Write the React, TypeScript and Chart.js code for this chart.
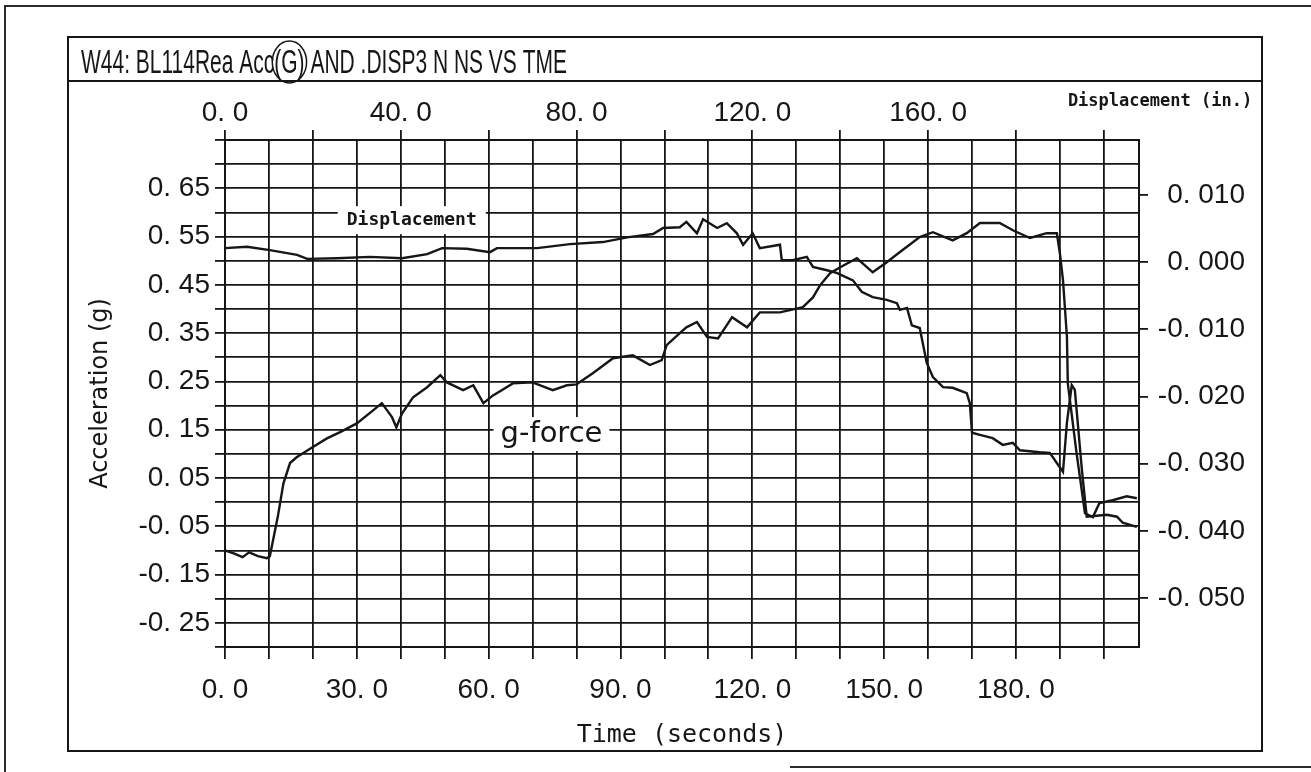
import React, { useEffect, useRef } from 'react';
import { Chart, registerables } from 'chart.js';
Chart.register(...registerables);

// ---- data ----
const gTime = [0, 2, 4, 5.5, 7.5, 9.5, 10.2, 12, 13.3, 14.8, 16.3, 20, 23.2, 26.2, 30, 33.7, 35.7, 38, 39, 40.3, 42.8, 46, 49, 50.5, 54.2, 56.5, 58.8, 61, 65.5, 70, 74.6, 77.8, 80, 83.7, 88.3, 92.8, 96.7, 99.4, 100.5, 103.5, 105, 107.4, 109.7, 112.2, 115.4, 118.8, 121.7, 126.3, 131.5, 133.8, 135.4, 137.7, 139.9, 143.8, 147.4, 150.6, 153.6, 158.1, 161.1, 165.6, 168.8, 171.8, 176.3, 179.3, 183.2, 187, 189.3, 190, 190.7, 191.6, 191.8, 193.8, 195.7, 197.5, 199, 202, 205.2, 207.5];
const gValue = [-0.100, -0.106, -0.114, -0.104, -0.112, -0.116, -0.112, -0.031, 0.039, 0.081, 0.093, 0.114, 0.132, 0.145, 0.163, 0.190, 0.205, 0.176, 0.155, 0.184, 0.217, 0.238, 0.263, 0.248, 0.232, 0.242, 0.205, 0.221, 0.246, 0.248, 0.232, 0.242, 0.244, 0.267, 0.298, 0.304, 0.284, 0.294, 0.325, 0.350, 0.362, 0.373, 0.342, 0.339, 0.383, 0.362, 0.393, 0.393, 0.404, 0.424, 0.449, 0.474, 0.486, 0.505, 0.476, 0.497, 0.518, 0.549, 0.559, 0.542, 0.557, 0.578, 0.578, 0.563, 0.547, 0.557, 0.557, 0.515, 0.460, 0.342, 0.246, 0.101, -0.023, -0.031, -0.002, 0.004, 0.012, 0.008];

const dTime = [0, 5, 10.2, 16.4, 18.7, 25.5, 33, 40.3, 46, 49.4, 55, 60.3, 61.9, 71, 78.5, 86, 91.5, 97.4, 99.7, 103.5, 105, 107.4, 108.8, 112, 114.2, 116.5, 117.9, 120.1, 121.7, 126.3, 126.7, 129.2, 132.4, 133.8, 137, 139.2, 142.9, 144.9, 147.4, 150.6, 152.9, 153.6, 155.2, 156.3, 158.1, 159.7, 161.1, 163.4, 165.6, 168.8, 169.5, 170, 171.8, 174.7, 177, 179.3, 180.9, 185.4, 187.7, 189.3, 190.7, 191.6, 192.7, 193.4, 195, 196.1, 200.7, 203, 204.3, 207.5];
const dValue = [0.0021, 0.0023, 0.0018, 0.0011, 0.0005, 0.0006, 0.0008, 0.0006, 0.0012, 0.0021, 0.0020, 0.0015, 0.0021, 0.0021, 0.0027, 0.0030, 0.0037, 0.0042, 0.0051, 0.0052, 0.0060, 0.0043, 0.0064, 0.0051, 0.0058, 0.0043, 0.0026, 0.0043, 0.0021, 0.0026, 0.0003, 0.0003, 0.0008, -0.0007, -0.0012, -0.0016, -0.0027, -0.0044, -0.0052, -0.0056, -0.0061, -0.0071, -0.0068, -0.0094, -0.0098, -0.0150, -0.0171, -0.0186, -0.0187, -0.0195, -0.0210, -0.0254, -0.0257, -0.0262, -0.0272, -0.0269, -0.0280, -0.0283, -0.0284, -0.0299, -0.0312, -0.0239, -0.0183, -0.0190, -0.0309, -0.0379, -0.0376, -0.0379, -0.0388, -0.0394];

// tick labels
const bottomLabelValues = [0, 30, 60, 90, 120, 150, 180];
const topLabelValues = [0, 40, 80, 120, 160];
const leftLabelValues = [0.65, 0.55, 0.45, 0.35, 0.25, 0.15, 0.05, -0.05, -0.15, -0.25];
const rightLabelValues = [0.01, 0, -0.01, -0.02, -0.03, -0.04, -0.05];

const titleText = 'W44: BL114Rea Acc(G) AND .DISP3 N NS VS TME';
const leftTitle = 'Acceleration (g)';
const bottomTitle = 'Time (seconds)';
const rightTitle = 'Displacement (in.)';
const gLabel = 'g-force';
const dLabel = 'Displacement';

const INK = '#161616';

function fmt(v: number, dec: number) {
  const r = Math.abs(v) < 1e-9 ? 0 : v;
  return r.toFixed(dec).replace('.', '. ');
}
function near(arr: number[], v: number, eps: number) {
  return arr.some((a) => Math.abs(a - v) < eps);
}

const decor = {
  id: 'decor',
  beforeDraw(chart: any) {
    const ctx = chart.ctx as CanvasRenderingContext2D;
    const W = chart.width;
    const H = chart.height;
    ctx.save();
    ctx.fillStyle = '#fff';
    ctx.fillRect(0, 0, W, H);
    ctx.strokeStyle = '#2a2a2a';
    ctx.lineWidth = 2;
    // outer page frame
    ctx.beginPath();
    ctx.moveTo(5, H);
    ctx.lineTo(5, 6);
    ctx.lineTo(W, 6);
    ctx.moveTo(790, 767);
    ctx.lineTo(W, 767);
    ctx.stroke();
    // inner frame
    ctx.strokeStyle = INK;
    ctx.strokeRect(68, 37, 1194, 714);
    // title underline
    ctx.beginPath();
    ctx.moveTo(68, 81);
    ctx.lineTo(1262, 81);
    ctx.stroke();
    // title
    ctx.font = '33px "Liberation Sans", Arial, sans-serif';
    ctx.fillStyle = INK;
    ctx.textBaseline = 'alphabetic';
    ctx.textAlign = 'left';
    const tw = ctx.measureText(titleText).width;
    const sx = 486 / tw;
    ctx.save();
    ctx.translate(81, 73);
    ctx.scale(sx, 1);
    ctx.fillText(titleText, 0, 0);
    // hand drawn circle around (G)
    const pre = ctx.measureText('W44: BL114Rea Acc').width;
    const gw = ctx.measureText('(G)').width;
    ctx.restore();
    ctx.beginPath();
    ctx.lineWidth = 1.5;
    ctx.ellipse(81 + (pre + gw / 2) * sx, 62, (gw * sx) / 2 + 2, 21, 0, 0, Math.PI * 2);
    ctx.stroke();
    // right axis title
    ctx.font = 'bold 17px "DejaVu Sans Mono", monospace';
    ctx.textAlign = 'center';
    ctx.textBaseline = 'middle';
    ctx.fillText(rightTitle, 1160, 102);
    ctx.restore();
  },
  afterDraw(chart: any) {
    const ctx = chart.ctx as CanvasRenderingContext2D;
    const xs = chart.scales.x;
    const ys = chart.scales.y;
    ctx.save();
    ctx.textAlign = 'center';
    ctx.textBaseline = 'middle';
    // "Displacement" annotation
    ctx.font = 'bold 18px "DejaVu Sans Mono", monospace';
    let px = xs.getPixelForValue(42.5);
    let py = ys.getPixelForValue(0.584);
    let w = ctx.measureText(dLabel).width;
    ctx.fillStyle = '#fff';
    ctx.fillRect(px - w / 2 - 9, py - 14, w + 18, 28);
    ctx.fillStyle = INK;
    ctx.fillText(dLabel, px, py);
    // "g-force" annotation
    ctx.font = '29px "DejaVu Sans", sans-serif';
    px = xs.getPixelForValue(74.3);
    py = ys.getPixelForValue(0.141);
    w = ctx.measureText(gLabel).width;
    ctx.fillStyle = '#fff';
    ctx.fillRect(px - w / 2 - 7, py - 17, w + 14, 34);
    ctx.fillStyle = INK;
    ctx.fillText(gLabel, px, py);
    ctx.restore();
  },
};

export default function App() {
  const ref = useRef<HTMLCanvasElement>(null);
  useEffect(() => {
    document.body.style.margin = '0';
    const canvas = ref.current!;
    const tickFont = { family: '"Liberation Sans", Arial, sans-serif', size: 28 };
    const gridCommon = { color: INK, lineWidth: 1.8, tickColor: INK, tickWidth: 1.8 };
    const chart = new Chart(canvas, {
      type: 'line',
      data: {
        datasets: [
          {
            label: gLabel,
            data: gTime.map((t, i) => ({ x: t, y: gValue[i] })),
            xAxisID: 'x',
            yAxisID: 'y',
            borderColor: INK,
            borderWidth: 2.4,
            pointRadius: 0,
            fill: false,
            tension: 0,
          },
          {
            label: dLabel,
            data: dTime.map((t, i) => ({ x: t, y: dValue[i] })),
            xAxisID: 'x',
            yAxisID: 'y1',
            borderColor: INK,
            borderWidth: 2.4,
            pointRadius: 0,
            fill: false,
            tension: 0,
          },
        ],
      },
      options: {
        animation: false,
        responsive: false,
        devicePixelRatio: 1,
        layout: { padding: { left: 0, right: 66, top: 0, bottom: 0 } },
        plugins: {
          legend: { display: false },
          tooltip: { enabled: false },
          title: { display: false },
        },
        scales: {
          x: {
            type: 'linear',
            position: 'bottom',
            min: 0,
            max: 208,
            ticks: {
              stepSize: 10,
              autoSkip: false,
              maxRotation: 0,
              includeBounds: false,
              padding: 14,
              font: tickFont,
              color: INK,
              callback: (v: any) => (near(bottomLabelValues, Number(v), 0.01) ? fmt(Number(v), 1) : ''),
            },
            grid: { ...gridCommon, drawTicks: true, tickLength: 12 },
            border: { display: true, color: INK, width: 2 },
            title: {
              display: true,
              text: bottomTitle,
              color: INK,
              font: { family: '"DejaVu Sans Mono", monospace', size: 25 },
              padding: { top: 0, bottom: 22 },
            },
            afterFit: (s: any) => {
              s.height = 125;
            },
          },
          x2: {
            type: 'linear',
            position: 'top',
            min: 0,
            max: 208,
            ticks: {
              stepSize: 20,
              autoSkip: false,
              maxRotation: 0,
              includeBounds: false,
              padding: 0,
              font: tickFont,
              color: INK,
              callback: (v: any) => (near(topLabelValues, Number(v), 0.01) ? fmt(Number(v), 1) : ''),
            },
            grid: { ...gridCommon, drawOnChartArea: false, drawTicks: true, tickLength: 10 },
            border: { display: true, color: INK, width: 2 },
            afterFit: (s: any) => {
              s.height = 140;
            },
          },
          y: {
            type: 'linear',
            position: 'left',
            min: -0.3,
            max: 0.75,
            ticks: {
              stepSize: 0.05,
              autoSkip: false,
              padding: 5,
              font: tickFont,
              color: INK,
              callback: (v: any) => (near(leftLabelValues, Number(v), 0.001) ? fmt(Number(v), 2) : ''),
            },
            grid: { ...gridCommon, drawTicks: true, tickLength: 10 },
            border: { display: true, color: INK, width: 2 },
            title: {
              display: true,
              text: leftTitle,
              color: INK,
              font: { family: '"DejaVu Sans", sans-serif', size: 24 },
              padding: { top: 86, bottom: 0 },
            },
            afterFit: (s: any) => {
              s.width = 225;
            },
          },
          y1: {
            type: 'linear',
            position: 'right',
            min: -0.0573,
            max: 0.0182,
            ticks: {
              stepSize: 0.01,
              autoSkip: false,
              includeBounds: false,
              crossAlign: 'far',
              padding: 6,
              font: tickFont,
              color: INK,
              callback: (v: any) => (near(rightLabelValues, Number(v), 0.0001) ? fmt(Number(v), 3) : ''),
            },
            grid: { ...gridCommon, drawOnChartArea: false, drawTicks: true, tickLength: 9 },
            border: { display: true, color: INK, width: 2 },
            afterFit: (s: any) => {
              s.width = 106;
            },
          },
        },
      } as any,
      plugins: [decor],
    });
    return () => chart.destroy();
  }, []);
  return (
    <canvas
      ref={ref}
      width={1311}
      height={772}
      style={{ display: 'block', width: '1311px', height: '772px' }}
    />
  );
}
